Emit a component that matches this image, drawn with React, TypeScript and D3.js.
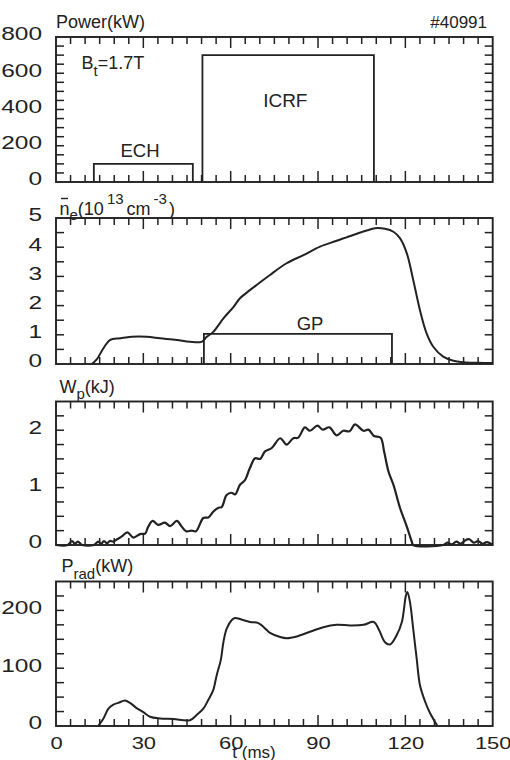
import React from "react";
import * as d3 from "d3";

// ---------- data ----------
const tDomain = [0, 150];
const xTickLabels = [0, 30, 60, 90, 120, 150];

// Panel 1: heating power (kW)
const echPulse = { t0: 13, t1: 47, p: 100 };
const icrfPulse = { t0: 50.3, t1: 109.2, p: 700 };
const powerTicks = [0, 200, 400, 600, 800];

// Panel 2: line density (1e13 cm^-3)
const neT = [12.3, 14, 16.3, 18.5, 22, 26, 31.2, 35.7, 41.5, 46, 50, 51.8, 54, 57.5, 61, 63.2, 66.6, 69.5, 73.5, 79.2, 85, 90.7, 96.4, 102.1, 106.7, 109.6, 113, 115.9, 118.2, 120.5, 122.7, 125, 127.3, 129.6, 133, 136.5, 139.9, 145, 150];
const neV = [0, 0.16, 0.54, 0.82, 0.88, 0.93, 0.93, 0.88, 0.82, 0.76, 0.76, 0.93, 1.1, 1.56, 1.96, 2.25, 2.53, 2.75, 3.05, 3.45, 3.73, 4.02, 4.22, 4.42, 4.57, 4.65, 4.63, 4.53, 4.3, 3.79, 2.88, 1.85, 1.05, 0.59, 0.25, 0.11, 0.06, 0.04, 0.03];
const gpPulse = { t0: 50.8, t1: 115.4, v: 1.03 };
const neTicks = [0, 1, 2, 3, 4, 5];

// Panel 3: stored energy (kJ)
const wpT = [0, 4, 5.5, 6.5, 7.5, 9, 13, 14.5, 15.5, 16.5, 17.5, 18.5, 19.7, 21, 22.6, 24.5, 26.6, 28.9, 30.6, 31.7, 33.2, 35.1, 37.4, 39.2, 41.5, 43.2, 44.7, 46.6, 48.1, 50.6, 52.3, 54.0, 55.8, 56.9, 58.6, 60.3, 61.5, 63.2, 64.9, 66.6, 68.4, 70.1, 71.8, 74.1, 77, 79.2, 81.5, 83.2, 85.5, 87.2, 89.8, 91.6, 93.9, 96.4, 98.7, 100.8, 102.7, 105.6, 107.3, 109.2, 111.5, 112.7, 114.2, 115.9, 118.2, 120.5, 122.2, 122.7, 133, 134.5, 136, 137.5, 139, 140.5, 142, 143.5, 145, 146.5, 148, 150];
const wpV = [0, 0, 0.07, 0.02, 0.06, 0, 0, 0.06, 0.02, 0.07, 0.03, 0.07, 0.06, 0.1, 0.15, 0.22, 0.13, 0.19, 0.2, 0.32, 0.42, 0.35, 0.39, 0.33, 0.42, 0.32, 0.24, 0.25, 0.24, 0.47, 0.48, 0.58, 0.65, 0.66, 0.87, 0.91, 0.88, 1.05, 1.13, 1.34, 1.51, 1.5, 1.63, 1.69, 1.86, 1.75, 1.86, 1.87, 2.05, 1.99, 2.08, 2.01, 2.05, 1.91, 1.99, 1.98, 2.1, 1.99, 2.01, 1.9, 1.87, 1.63, 1.28, 1.05, 0.64, 0.32, 0.06, 0, 0, 0.04, 0.01, 0.06, 0.02, 0.08, 0.1, 0.04, 0.07, 0.02, 0.05, 0];
const wpTicks = [0, 1, 2];

// Panel 4: radiated power (kW)
const pradT = [14.5, 16.3, 18, 19.7, 21.4, 23.7, 25.4, 27.7, 30, 32.3, 35.7, 40.3, 46, 48.3, 50.6, 52.3, 54, 55.2, 56.6, 57.5, 58.6, 60.3, 61.5, 63.2, 66.6, 69.5, 72.4, 73.5, 77, 79.2, 82.7, 87.2, 91.8, 96.4, 101, 105.6, 109.2, 110.8, 113, 114.7, 117, 118.8, 120.2, 120.7, 121.6, 122.7, 123.9, 125, 126.8, 128.5, 130.2, 131];
const pradV = [0, 13, 30, 37, 40, 44, 40, 31, 24, 16, 13, 12, 10, 19, 30, 45, 62, 88, 114, 145, 168, 183, 187, 185, 180, 178, 166, 161, 154, 152, 155, 163, 171, 175, 174, 175, 180, 168, 145, 141, 157, 180, 226, 232, 214, 168, 116, 71, 42, 22, 7, 0];
const pradTicks = [0, 100, 200];

// ---------- layout ----------
const W = 510;
const H = 760;
const left = 56;
const right = 492.7;
const INK = "#222";
const FONT = "'Liberation Sans', Arial, Helvetica, sans-serif";

const panels = [
  { top: 37, bottom: 182, max: 800, minor: 50, labels: powerTicks },
  { top: 218, bottom: 364, max: 5, minor: 0.5, labels: neTicks },
  { top: 401.5, bottom: 545, max: 2.5, minor: 0.25, labels: wpTicks },
  { top: 581.5, bottom: 726, max: 250, minor: 25, labels: pradTicks },
];

const x = d3.scaleLinear().domain(tDomain).range([left, right]);
const xMinor = d3.range(5, 150, 5);

function Frame({ p, idx }: { p: any; idx: number }) {
  const y = d3.scaleLinear().domain([0, p.max]).range([p.bottom, p.top]);
  const yMinor = d3.range(p.minor, p.max - 1e-9, p.minor);
  const last = idx === panels.length - 1;
  return (
    <g>
      {xMinor.map((t) => {
        const len = t % 30 === 0 ? 11 : 7;
        return (
          <g key={"xt" + t}>
            <line x1={x(t)} x2={x(t)} y1={p.top} y2={p.top + len} stroke={INK} strokeWidth={1.5} />
            <line x1={x(t)} x2={x(t)} y1={p.bottom} y2={p.bottom - len} stroke={INK} strokeWidth={1.5} />
          </g>
        );
      })}
      {yMinor.map((v) => (
        <g key={"yt" + v}>
          <line x1={left} x2={left + 8} y1={y(v)} y2={y(v)} stroke={INK} strokeWidth={1.5} />
          <line x1={right} x2={right - 8} y1={y(v)} y2={y(v)} stroke={INK} strokeWidth={1.5} />
        </g>
      ))}
      <rect x={left} y={p.top} width={right - left} height={p.bottom - p.top} fill="none" stroke={INK} strokeWidth={1.9} />
      {p.labels.map((v: number) => (
        <text
          key={"yl" + v}
          transform={`translate(${left - 14},${y(v) + 3.3}) scale(1.4,1)`}
          textAnchor="end"
          fontSize={17.5}
          fill={INK}
        >
          {v}
        </text>
      ))}
      {last &&
        xTickLabels.map((t) => (
          <text
            key={"xl" + t}
            transform={`translate(${x(t) + 0.5},${p.bottom + 22.5}) scale(1.33,1)`}
            textAnchor="middle"
            fontSize={16.5}
            fill={INK}
          >
            {t}
          </text>
        ))}
    </g>
  );
}

export default function App() {
  const y1 = d3.scaleLinear().domain([0, panels[0].max]).range([panels[0].bottom, panels[0].top]);
  const y2 = d3.scaleLinear().domain([0, panels[1].max]).range([panels[1].bottom, panels[1].top]);
  const y3 = d3.scaleLinear().domain([0, panels[2].max]).range([panels[2].bottom, panels[2].top]);
  const y4 = d3.scaleLinear().domain([0, panels[3].max]).range([panels[3].bottom, panels[3].top]);

  const pulsePath = (t0: number, t1: number, v: number, ys: any) =>
    d3.line()([
      [x(t0), ys(0)],
      [x(t0), ys(v)],
      [x(t1), ys(v)],
      [x(t1), ys(0)],
    ]) as string;

  const neLine = d3
    .line<number>()
    .x((_, i) => x(neT[i]))
    .y((d) => y2(d))
    .curve(d3.curveCatmullRom.alpha(0.5))(neV) as string;
  const wpLine = d3
    .line<number>()
    .x((_, i) => x(wpT[i]))
    .y((d) => Math.min(y3(d), panels[2].bottom))
    .curve(d3.curveCatmullRom.alpha(0.5))(wpV) as string;
  const pradLine = d3
    .line<number>()
    .x((_, i) => x(pradT[i]))
    .y((d) => y4(d))
    .curve(d3.curveCatmullRom.alpha(0.5))(pradV) as string;

  return (
    <svg
      width={W}
      height={H}
      viewBox={`0 0 ${W} ${H}`}
      style={{ position: "absolute", left: 0, top: 0, background: "#fff" }}
      fontFamily={FONT}
    >
      <rect x={0} y={0} width={W} height={H} fill="#fff" />
      {panels.map((p, i) => (
        <Frame key={i} p={p} idx={i} />
      ))}

      {/* Panel 1 */}
      <path d={pulsePath(echPulse.t0, echPulse.t1, echPulse.p, y1)} fill="none" stroke={INK} strokeWidth={1.8} />
      <path d={pulsePath(icrfPulse.t0, icrfPulse.t1, icrfPulse.p, y1)} fill="none" stroke={INK} strokeWidth={1.8} />
      <text x={56} y={28.3} fontSize={18} fill={INK}>Power(kW)</text>
      <text x={487} y={28.3} fontSize={17} fill={INK} textAnchor="end">#40991</text>
      <text x={81.5} y={69.3} fontSize={18} fill={INK}>
        B
        <tspan fontSize={15} dy={6.5}>t</tspan>
        <tspan dy={-6.5}>=1.7T</tspan>
      </text>
      <text x={285.3} y={107.3} fontSize={19} fill={INK} textAnchor="middle">ICRF</text>
      <text x={140} y={156.7} fontSize={18.5} fill={INK} textAnchor="middle">ECH</text>

      {/* Panel 2 */}
      <path d={pulsePath(gpPulse.t0, gpPulse.t1, gpPulse.v, y2)} fill="none" stroke={INK} strokeWidth={1.8} />
      <path d={neLine} fill="none" stroke={INK} strokeWidth={2} strokeLinejoin="round" />
      <text x={310} y={330} fontSize={18.5} fill={INK} textAnchor="middle">GP</text>
      <line x1={61} x2={68} y1={198.5} y2={198.5} stroke={INK} strokeWidth={1.4} />
      <text x={59.5} y={215} fontSize={18} fill={INK}>
        n
        <tspan fontSize={15} dy={5}>e</tspan>
        <tspan dy={-5}>(10</tspan>
        <tspan fontSize={15} dx={3} dy={-11}>13</tspan>
        <tspan dx={3} dy={11}>cm</tspan>
        <tspan fontSize={15} dx={3} dy={-11}>-3</tspan>
        <tspan dx={2} dy={11}>)</tspan>
      </text>

      {/* Panel 3 */}
      <path d={wpLine} fill="none" stroke={INK} strokeWidth={2.2} strokeLinejoin="round" />
      <text x={59.5} y={393} fontSize={18} fill={INK}>
        W
        <tspan fontSize={15} dy={6}>p</tspan>
        <tspan dy={-6}>(kJ)</tspan>
      </text>

      {/* Panel 4 */}
      <path d={pradLine} fill="none" stroke={INK} strokeWidth={2} strokeLinejoin="round" />
      <text x={61.5} y={572} fontSize={18} fill={INK}>
        P
        <tspan fontSize={15} dy={7}>rad</tspan>
        <tspan dy={-7}>(kW)</tspan>
      </text>
      <text x={254} y={758} fontSize={17} fill={INK} textAnchor="middle">t (ms)</text>
    </svg>
  );
}
